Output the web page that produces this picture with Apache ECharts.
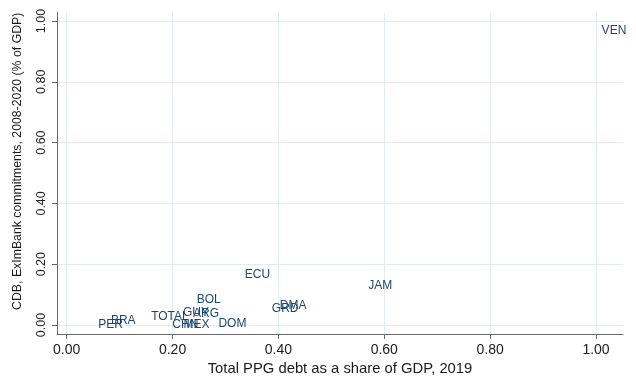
<!DOCTYPE html>
<html>
<head>
<meta charset="utf-8">
<script src="https://cdn.jsdelivr.net/npm/echarts@6/dist/echarts.min.js"></script>
<style>html,body{margin:0;padding:0;background:#fff;}#c{width:636px;height:385px;}</style>
</head>
<body>
<div id="c"></div>
<script>
const countries   = ['VEN','JAM','ECU','BOL','DMA','GRD','GUY','ARG','TOTAL','CHN','MEX','DOM','BRA','PER'];
const debtShare   = [1.004,0.563,0.330,0.239,0.396,0.381,0.213,0.232,0.153,0.193,0.214,0.280,0.077,0.053];
const commitments = [0.968,0.128,0.167,0.082,0.063,0.053,0.039,0.038,0.028,0.002,0.000,0.005,0.013,0.000];
const xTicks = [0, 0.2, 0.4, 0.6, 0.8, 1.0];
const yTicks = [0, 0.2, 0.4, 0.6, 0.8, 1.0];

const points = countries.map((c, i) => ({ name: c, value: [debtShare[i], commitments[i]] }));
const fontFam = '"Liberation Sans", Arial, sans-serif';
const gridColor = '#e3edf0';
const axisColor = '#6b6b6b';

const chart = echarts.init(document.getElementById('c'), null, { renderer: 'canvas' });
chart.setOption({
  animation: false,
  backgroundColor: '#ffffff',
  grid: { left: 57, right: 13, top: 12.5, bottom: 51, containLabel: false },
  xAxis: {
    type: 'value',
    min: -0.0183, max: 1.051,
    name: 'Total PPG debt as a share of GDP, 2019',
    nameLocation: 'middle', nameGap: 24,
    nameTextStyle: { fontFamily: fontFam, fontSize: 14.8, color: '#1a1a1a', verticalAlign: 'top' },
    axisLine: { show: true, onZero: false, lineStyle: { color: axisColor, width: 1 } },
    axisTick: { show: true, length: 5, customValues: xTicks, lineStyle: { color: axisColor } },
    axisLabel: { customValues: xTicks, margin: 9, fontFamily: fontFam, fontSize: 14, color: '#1a1a1a',
      formatter: v => v.toFixed(2) },
    splitLine: { show: true, lineStyle: { color: gridColor, width: 1 } }
  },
  yAxis: {
    type: 'value',
    min: -0.0296, max: 1.028,
    name: 'CDB, ExImBank commitments, 2008-2020 (% of GDP)',
    nameLocation: 'middle', nameGap: 33, nameRotate: 90,
    nameTextStyle: { fontFamily: fontFam, fontSize: 12.3, color: '#1a1a1a', padding: [0, 0, 0, 24] },
    axisLine: { show: true, onZero: false, lineStyle: { color: axisColor, width: 1 } },
    axisTick: { show: true, length: 5, customValues: yTicks, lineStyle: { color: axisColor } },
    axisLabel: { customValues: yTicks, rotate: 90, margin: 9, fontFamily: fontFam, fontSize: 12.5, color: '#1a1a1a',
      formatter: v => v.toFixed(2) },
    splitLine: { show: true, lineStyle: { color: gridColor, width: 1 } }
  },
  series: [{
    type: 'scatter',
    data: points,
    symbolSize: 1,
    itemStyle: { color: 'rgba(0,0,0,0)' },
    label: {
      show: true, position: 'right', distance: 3,
      formatter: p => p.name,
      fontFamily: fontFam, fontSize: 12, color: '#1a476f', opacity: 1
    },
    emphasis: { disabled: true }
  }]
});
</script>
</body>
</html>
